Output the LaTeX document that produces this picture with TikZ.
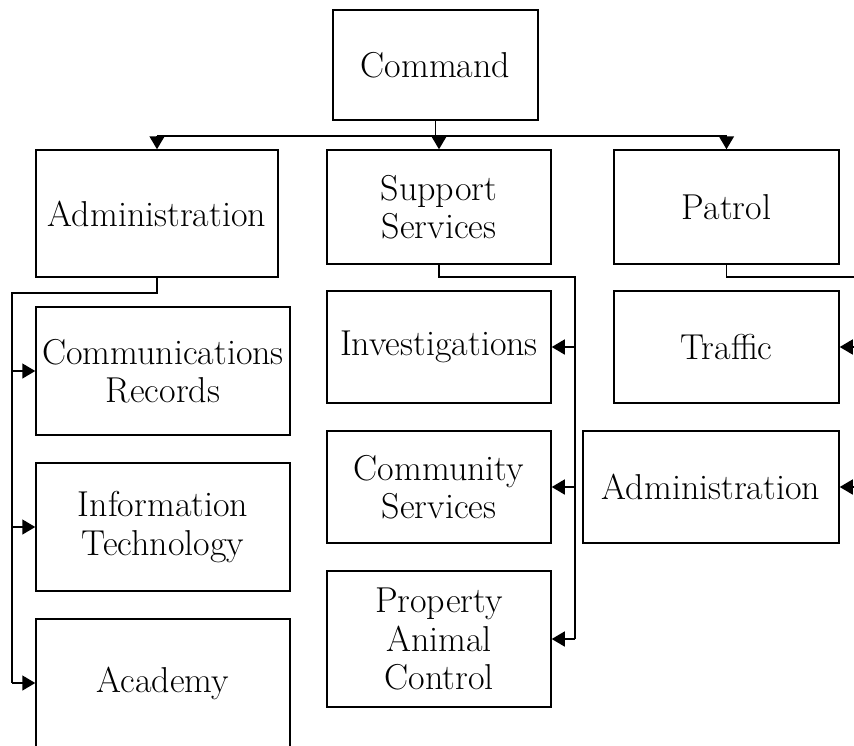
\documentclass[tikz,border=0pt]{standalone}
\usepackage{fontspec}
\usetikzlibrary{arrows.meta}
\begin{document}
\begin{tikzpicture}[x=1pt,y=-1pt,
  box/.style={draw,line width=1.5pt,rectangle,inner sep=0pt,align=center,
    font=\fontsize{36}{38.5}\selectfont},
  con/.style={line width=1.5pt},
  tri/.style={con,-{Triangle[length=13pt,width=15pt]}}]
\clip (0,0) rectangle (854,745);
\node[box,minimum width=205pt,minimum height=110pt] (cmd) at (435.5,65) {Command};
\node[box,minimum width=242pt,minimum height=127pt] (adm) at (157,213.5) {Administration};
\node[box,minimum width=224pt,minimum height=114pt] (sup) at (439,207) {Support\\Services};
\node[box,minimum width=225pt,minimum height=114pt] (pat) at (726.5,207) {Patrol};
\node[box,minimum width=254pt,minimum height=128pt] (com) at (163,371) {Communications\\Records};
\node[box,minimum width=254pt,minimum height=128pt] (inf) at (163,527) {Information\\Technology};
\node[box,minimum width=254pt,minimum height=128pt] (aca) at (163,683) {Academy};
\node[box,minimum width=224pt,minimum height=112pt] (inv) at (439,347) {Investigations};
\node[box,minimum width=224pt,minimum height=112pt] (cms) at (439,487) {Community\\Services};
\node[box,minimum width=224pt,minimum height=136pt] (prp) at (439,639) {Property\\Animal\\Control};
\node[box,minimum width=225pt,minimum height=112pt] (trf) at (726.5,347) {Traffic};
\node[box,minimum width=256pt,minimum height=112pt] (adm2) at (711,487) {Administration};
\coordinate (bus) at (0,136);
\coordinate (lrail) at (12,293);
\coordinate (mrail) at (575,277);
\coordinate (rrail) at (880,277);
% top bus
\draw[con] (cmd.south) -- (cmd.south |- bus);
\draw[con] (adm.north |- bus) -- (pat.north |- bus);
\draw[tri] (adm.north |- bus) -- (adm.north);
\draw[tri] (sup.north |- bus) -- (sup.north);
\draw[tri] (pat.north |- bus) -- (pat.north);
% administration branch
\draw[con] (adm.south) |- (lrail) -- (lrail |- aca.west);
\draw[tri] (lrail |- com.west) -- (com.west);
\draw[tri] (lrail |- inf.west) -- (inf.west);
\draw[tri] (lrail |- aca.west) -- (aca.west);
% support branch
\draw[con] (sup.south) |- (mrail) -- (mrail |- prp.east);
\draw[tri] (mrail |- inv.east) -- (inv.east);
\draw[tri] (mrail |- cms.east) -- (cms.east);
\draw[tri] (mrail |- prp.east) -- (prp.east);
% patrol branch
\draw[con] (pat.south) |- (rrail) -- (rrail |- adm2.east);
\draw[tri] (rrail |- trf.east) -- (trf.east);
\draw[tri] (rrail |- adm2.east) -- (adm2.east);
\end{tikzpicture}
\end{document}
